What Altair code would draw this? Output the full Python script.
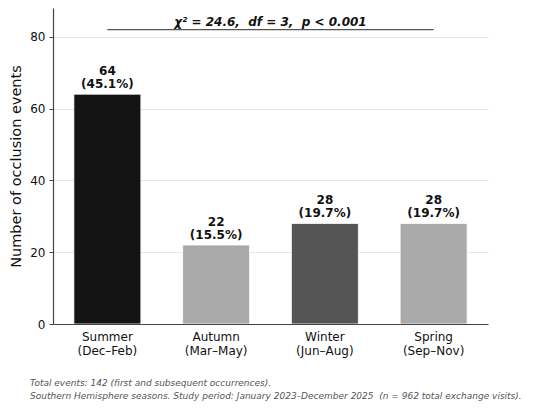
import altair as alt
import pandas as pd

seasons = ["Summer", "Autumn", "Winter", "Spring"]
months = ["(Dec–Feb)", "(Mar–May)", "(Jun–Aug)", "(Sep–Nov)"]
counts = [64, 22, 28, 28]
pcts = ["45.1%", "15.5%", "19.7%", "19.7%"]
colors = ["#141414", "#aaaaaa", "#555555", "#aaaaaa"]

stat_text = "χ² = 24.6,\u00a0 df = 3,\u00a0 p < 0.001"
stat_y = 82
foot1 = "Total events: 142 (first and subsequent occurrences)."
foot2 = "Southern Hemisphere seasons. Study period: January 2023–December 2025\u00a0 (n = 962 total exchange visits)."

cats = [f"{s}|{m}" for s, m in zip(seasons, months)]
df = pd.DataFrame({
    "cat": cats,
    "count": counts,
    "label": [f"{c}\n({p})" for c, p in zip(counts, pcts)],
    "color": colors,
})
df_rule = pd.DataFrame({"x1": [cats[0]], "x2": [cats[-1]], "y": [stat_y]})
df_stat = pd.DataFrame({"xm": [cats[1]], "y": [stat_y], "t": [stat_text]})

FONT = "DejaVu Sans"
xscale = alt.Scale(domain=cats, paddingInner=0.384, paddingOuter=0.192)
yscale = alt.Scale(domain=[0, 88], nice=False)

xenc = alt.X(
    "cat:N", scale=xscale, sort=None, title=None,
    axis=alt.Axis(
        labelExpr="split(datum.label, '|')", labelAngle=0, ticks=False,
        labelPadding=7, labelFontSize=12, labelColor="#111", labelFont=FONT,
        labelLineHeight=14, domainColor="#444", domainWidth=1.2, zindex=1,
    ),
)
yenc = alt.Y(
    "count:Q", scale=yscale,
    axis=alt.Axis(
        values=[0, 20, 40, 60, 80], title="Number of occlusion events",
        titleFontSize=14.5, titleFontWeight="normal", titleFont=FONT, titleColor="#111",
        titlePadding=6, labelFontSize=12, labelFont=FONT, labelColor="#111",
        labelPadding=4, tickSize=4, tickColor="#444", domainColor="#444",
        domainWidth=1.2, grid=True, gridColor="#e6e6e6", gridWidth=1,
    ),
)

bars = alt.Chart(df).mark_bar(stroke="white", strokeWidth=0.8).encode(
    x=xenc, y=yenc, color=alt.Color("color:N", scale=None),
)
labels = alt.Chart(df).mark_text(
    lineBreak="\n", baseline="bottom", dy=-16, fontSize=12,
    fontWeight="bold", font=FONT, color="#111", lineHeight=13,
).encode(
    x=alt.X("cat:N", scale=xscale, sort=None), y=alt.Y("count:Q", scale=yscale),
    text="label:N",
)
rule = alt.Chart(df_rule).mark_rule(color="#555", strokeWidth=1.2).encode(
    x=alt.X("x1:N", scale=xscale, sort=None, bandPosition=0.5),
    x2="x2:N",
    y=alt.Y("y:Q", scale=yscale),
)
stat = alt.Chart(df_stat).mark_text(
    baseline="alphabetic", dy=-4, dx=54.4, fontSize=12, fontWeight="bold",
    fontStyle="italic", font=FONT, color="#111",
).encode(
    x=alt.X("xm:N", scale=xscale, sort=None), y=alt.Y("y:Q", scale=yscale),
    text="t:N",
)

chart = alt.layer(bars, labels, rule, stat).properties(
    width=435, height=316,
    autosize=alt.AutoSizeParams(type="none"),
    padding={"left": 45, "top": 0, "right": 54, "bottom": 78},
    title=alt.TitleParams(
        text=[foot1, foot2], orient="bottom", anchor="start", frame="group",
        fontSize=9, fontStyle="italic", fontWeight="normal", color="#555",
        font=FONT, lineHeight=13, dx=-23, offset=23,
    ),
).configure_view(stroke=None)

chart.save("out.html", embed_options={"renderer": "svg", "actions": False})
